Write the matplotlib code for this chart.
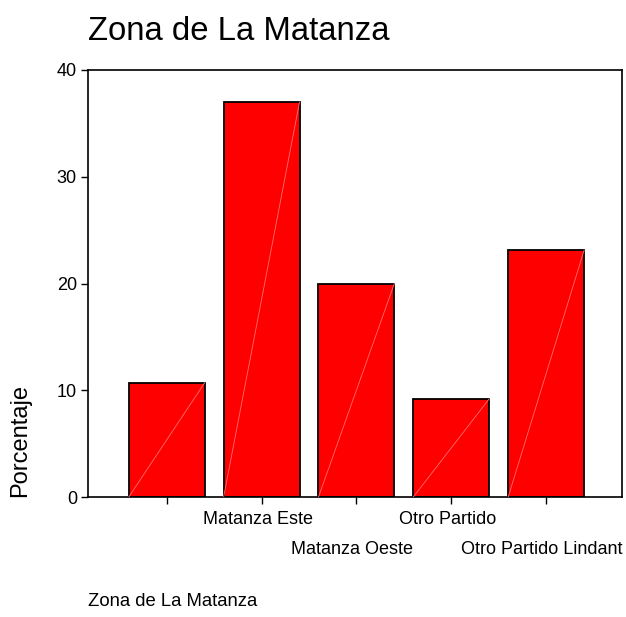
import matplotlib
matplotlib.use("Agg")
import matplotlib.pyplot as plt
import numpy as np

plt.rcParams['font.family'] = ['Liberation Sans', 'DejaVu Sans']

# data
zonas = ["", "Matanza Este", "Matanza Oeste", "Otro Partido", "Otro Partido Lindant"]
porcentaje = [10.7, 37.0, 20.0, 9.2, 23.1]
yticks = [0, 10, 20, 30, 40]

fig = plt.figure(figsize=(6.26, 6.17), dpi=100)
ax = fig.add_axes([88/626, 1-497/617, (622-88)/626, (497-70)/617])

x = np.arange(len(zonas))
w = 0.8
ax.bar(x, porcentaje, width=w, color="#ff0000", edgecolor="black", linewidth=1.3, zorder=2)
# faint diagonal inside each bar (SPSS look)
for xi, v in zip(x, porcentaje):
    ax.plot([xi - w/2, xi + w/2], [0, v], color="#ff7070", linewidth=0.6, zorder=3)

ax.set_xlim(-0.83, 4.8)
ax.set_ylim(0, 40)
ax.set_yticks(yticks)
ax.set_yticklabels([str(t) for t in yticks], fontsize=13)
ax.set_xticks(x)
ax.set_xticklabels([])
ax.tick_params(axis="both", direction="out", length=5, width=1, colors="black")
ax.tick_params(axis="y", pad=3)
for s in ax.spines.values():
    s.set_linewidth(1.2)

# staggered category labels
for xi, lab in zip(x, zonas):
    off = -22 if xi % 2 == 1 else -53
    ax.annotate(lab, xy=(xi, 0), xycoords=("data", "axes fraction"),
                xytext=(-4, off), textcoords="offset pixels",
                ha="center", va="center", fontsize=13)

fig.text(88/626, 1-32/617, "Zona de La Matanza", fontsize=23.7, ha="left", va="center")
fig.text(20/626, 1-497/617, "Porcentaje", fontsize=17, rotation=90, ha="center", va="bottom")
fig.text(88/626, 1-602/617, "Zona de La Matanza", fontsize=13.3, ha="left", va="center")

fig.savefig("out.png", dpi=100)
